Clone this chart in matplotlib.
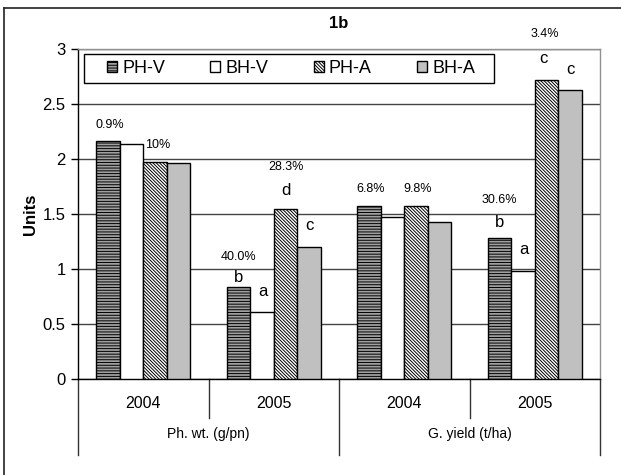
import matplotlib
matplotlib.use('Agg')
import matplotlib.pyplot as plt
import numpy as np
from matplotlib.lines import Line2D
from matplotlib.patches import Rectangle

plt.rcParams['font.family'] = ['Liberation Sans', 'DejaVu Sans']
plt.rcParams['hatch.linewidth'] = 0.7

# ---------------- data ----------------
years = ['2004', '2005', '2004', '2005']
traits = ['Ph. wt. (g/pn)', 'G. yield (t/ha)']
series = ['PH-V', 'BH-V', 'PH-A', 'BH-A']
ph_v = [2.16, 0.84, 1.57, 1.28]
bh_v = [2.14, 0.61, 1.47, 0.985]
ph_a = [1.97, 1.545, 1.57, 2.715]
bh_a = [1.96, 1.20, 1.43, 2.63]
yticks = [0, 0.5, 1, 1.5, 2, 2.5, 3]
pct_texts = ['0.9%', '10%', '40.0%', '28.3%', '6.8%', '9.8%', '30.6%', '3.4%']
pct_at = [(0, 0), (0, 1), (1, 0), (1, 2), (2, 0), (2, 2), (3, 0), (3, 2)]
letter_texts = ['b', 'a', 'd', 'c', 'b', 'a', 'c', 'c']
letter_at = [(1, 0), (1, 1), (1, 2), (1, 3), (3, 0), (3, 1), (3, 2), (3, 3)]

# ---------------- layout / style ----------------
pct_offsets = [(2, 16), (None, -1), (0, 30), (0, 42), (2, 17), (2, 17), (0, 38), (-2, 46)]
letter_offsets = [(0, 9), (1, 20), (0, 19), (0, 21), (0, 16), (1, 21), (-3, 22), (0, 20)]

fig = plt.figure(figsize=(6.21, 4.75), dpi=100)
ax = fig.add_axes([78 / 621, 1 - 379 / 475, 522 / 621, 330 / 475])

values = [ph_v, bh_v, ph_a, bh_a]
styles = [
    dict(facecolor='#a0a0a0', hatch='------'),
    dict(facecolor='white', hatch=None),
    dict(facecolor='white', hatch='\\' * 10),
    dict(facecolor='#c0c0c0', hatch=None),
]
x = np.arange(len(years))
w = 0.181
offs = [-1.5, -0.5, 0.5, 1.5]
bars = []
for k in range(4):
    b = ax.bar(x + offs[k] * w, values[k], width=w, edgecolor='black',
               linewidth=1.0, label=series[k], zorder=3, **styles[k])
    bars.append(b)

ax.set_xlim(-0.5, 3.5)
ax.set_ylim(0, 3)
ax.set_yticks(yticks)
ax.set_yticklabels(['0', '0.5', '1', '1.5', '2', '2.5', '3'], fontsize=12)
ax.tick_params(axis='y', length=5, width=1, direction='out', pad=4)
ax.set_xticks([])
ax.yaxis.grid(True, color='#444444', linewidth=1.0, zorder=0)
ax.set_axisbelow(True)
for s in ['top', 'right']:
    ax.spines[s].set_color('#909090')
    ax.spines[s].set_linewidth(1.0)
for s in ['left', 'bottom']:
    ax.spines[s].set_color('black')
    ax.spines[s].set_linewidth(1.0)

# category axis (two levels)
trans = ax.get_xaxis_transform()
for xb in [0.5, 2.5]:
    ax.add_line(Line2D([xb, xb], [0, -0.118], transform=trans, color='#333333',
                       linewidth=1.0, clip_on=False))
for xb in [-0.5, 1.5, 3.5]:
    ax.add_line(Line2D([xb, xb], [0, -0.23], transform=trans, color='#333333',
                       linewidth=1.0, clip_on=False))
for i, yr in enumerate(years):
    ax.text(i, -0.073, yr, transform=trans, ha='center', va='center', fontsize=11.5)
for j, tr in enumerate(traits):
    ax.text(0.5 + 2 * j, -0.167, tr, transform=trans, ha='center', va='center', fontsize=10)

# data labels
for (g, k), t, (dx, dy) in zip(pct_at, pct_texts, pct_offsets):
    xc = x[g] + offs[k] * w
    if dx is None:
        ax.annotate(t, xy=(xc + w / 2, values[k][g]), xytext=(2, dy),
                    textcoords='offset pixels', ha='left', va='center', fontsize=9)
    else:
        ax.annotate(t, xy=(xc, values[k][g]), xytext=(dx, dy),
                    textcoords='offset pixels', ha='center', va='center', fontsize=9)
for (g, k), t, (dx, dy) in zip(letter_at, letter_texts, letter_offsets):
    xc = x[g] + offs[k] * w
    ax.annotate(t, xy=(xc, values[k][g]), xytext=(dx, dy),
                textcoords='offset pixels', ha='center', va='center', fontsize=12)

# legend: box drawn separately, entries placed inside
box_x0, box_y0 = 6 / 522, (379 - 83) / 330
box_w, box_h = 410 / 522, 29 / 330
ax.add_patch(Rectangle((box_x0, box_y0), box_w, box_h, transform=ax.transAxes,
                       facecolor='white', edgecolor='black', linewidth=1.0,
                       zorder=4, clip_on=False))
leg = ax.legend(handles=bars, labels=series, ncol=4, loc='center',
                bbox_to_anchor=(box_x0 + box_w / 2 + 2 / 522, box_y0 + box_h / 2),
                fontsize=13, frameon=False,
                handlelength=0.55, handleheight=0.6,
                handletextpad=0.3, borderpad=0.0, borderaxespad=0,
                columnspacing=2.5)
leg.set_zorder(5)

# titles
fig.text(339 / 621, 1 - 24 / 475, '1b', ha='center', va='center',
         fontsize=12, fontweight='bold')
fig.text(30 / 621, 1 - 214 / 475, 'Units', ha='center', va='center',
         fontsize=12, fontweight='bold', rotation=90)

# outer frame (left and top edges visible)
fig.add_artist(Line2D([3.5 / 621, 3.5 / 621], [0, 1 - 8 / 475], transform=fig.transFigure,
                      color='#222222', linewidth=1.2))
fig.add_artist(Line2D([3.5 / 621, 1], [1 - 8 / 475, 1 - 8 / 475], transform=fig.transFigure,
                      color='#222222', linewidth=1.2))

fig.savefig('out.png', dpi=100)
